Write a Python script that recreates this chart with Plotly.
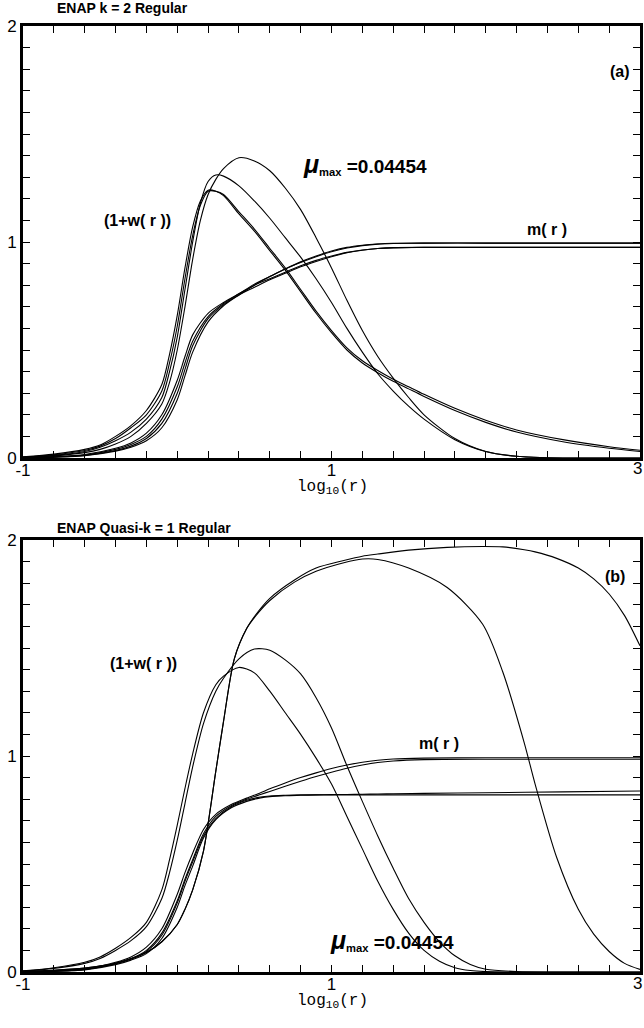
import plotly.graph_objects as go

# ---------------- Panel (a): ENAP k = 2 Regular ----------------
XA_W = [-1, -0.8, -0.6, -0.5, -0.4, -0.3, -0.2, -0.1, -0.05, 0, 0.05, 0.1, 0.15, 0.2, 0.25, 0.3,
        0.4, 0.5, 0.6, 0.7, 0.8, 0.9, 1.0, 1.1, 1.2, 1.3, 1.4, 1.5, 1.6, 1.8, 2.0, 2.2, 2.5, 2.8, 3.0]
A_W1 = [0.005, 0.018, 0.04, 0.06, 0.1, 0.15, 0.22, 0.34, 0.48, 0.66, 0.88, 1.07, 1.19, 1.24, 1.235, 1.215,
        1.13, 1.05, 0.96, 0.87, 0.77, 0.67, 0.58, 0.5, 0.44, 0.395, 0.355, 0.32, 0.285, 0.22, 0.165, 0.12, 0.075, 0.045, 0.03]
A_W1b = [0.004, 0.015, 0.035, 0.055, 0.09, 0.14, 0.2, 0.31, 0.44, 0.61, 0.83, 1.03, 1.17, 1.235, 1.235, 1.22,
         1.14, 1.06, 0.97, 0.88, 0.78, 0.68, 0.59, 0.51, 0.45, 0.405, 0.365, 0.33, 0.295, 0.23, 0.175, 0.13, 0.085, 0.052, 0.036]
A_W2 = [0.003, 0.012, 0.03, 0.05, 0.08, 0.12, 0.18, 0.28, 0.4, 0.56, 0.78, 1.0, 1.18, 1.28, 1.31, 1.305,
        1.26, 1.19, 1.11, 1.02, 0.93, 0.83, 0.72, 0.6, 0.49, 0.39, 0.31, 0.24, 0.18, 0.085, 0.03, 0.008, 0.0, 0.0, 0.0]
A_W3 = [0.002, 0.01, 0.025, 0.04, 0.065, 0.1, 0.16, 0.25, 0.35, 0.5, 0.7, 0.92, 1.1, 1.22, 1.29, 1.34,
        1.39, 1.375, 1.33, 1.25, 1.15, 1.02, 0.88, 0.73, 0.59, 0.47, 0.37, 0.28, 0.2, 0.09, 0.03, 0.008, 0.0, 0.0, 0.0]

XA_M = [-1, -0.8, -0.6, -0.4, -0.3, -0.2, -0.1, 0, 0.05, 0.1, 0.2, 0.3, 0.4, 0.5, 0.6, 0.7, 0.8, 0.9,
        1.0, 1.1, 1.2, 1.3, 1.4, 1.6, 2.0, 2.5, 3.0]
A_M1 = [0, 0.006, 0.016, 0.045, 0.07, 0.115, 0.2, 0.36, 0.47, 0.57, 0.67, 0.72, 0.76, 0.8, 0.83, 0.86, 0.89, 0.915,
        0.935, 0.952, 0.963, 0.97, 0.973, 0.975, 0.975, 0.975, 0.975]
A_M2 = [0, 0.005, 0.014, 0.04, 0.063, 0.1, 0.18, 0.33, 0.44, 0.54, 0.655, 0.715, 0.76, 0.805, 0.84, 0.875, 0.905, 0.932,
        0.955, 0.972, 0.983, 0.99, 0.993, 0.995, 0.995, 0.995, 0.995]
A_M3 = [0, 0.004, 0.012, 0.035, 0.055, 0.09, 0.16, 0.3, 0.41, 0.52, 0.645, 0.71, 0.755, 0.79, 0.825, 0.855, 0.885, 0.91,
        0.932, 0.95, 0.962, 0.97, 0.974, 0.975, 0.975, 0.975, 0.975]
A_M4 = [0, 0.004, 0.011, 0.032, 0.05, 0.08, 0.14, 0.27, 0.38, 0.49, 0.63, 0.705, 0.755, 0.8, 0.84, 0.875, 0.908, 0.935,
        0.958, 0.975, 0.985, 0.991, 0.994, 0.995, 0.995, 0.995, 0.995]

# ---------------- Panel (b): ENAP Quasi-k = 1 Regular ----------------
XB_W = [-1, -0.8, -0.6, -0.5, -0.4, -0.3, -0.2, -0.1, -0.05, 0, 0.05, 0.1, 0.17, 0.25, 0.3, 0.4, 0.5, 0.6,
        0.7, 0.8, 0.9, 1.0, 1.1, 1.2, 1.3, 1.4, 1.5, 1.6, 1.7, 1.8, 1.9, 2.0, 2.2, 2.5, 3.0]
B_WA = [0.005, 0.02, 0.045, 0.07, 0.11, 0.16, 0.23, 0.38, 0.52, 0.68, 0.85, 1.01, 1.2, 1.33, 1.37, 1.41, 1.385, 1.3,
        1.2, 1.1, 0.99, 0.87, 0.72, 0.57, 0.42, 0.29, 0.18, 0.1, 0.05, 0.02, 0.007, 0.002, 0.0, 0.0, 0.0]
B_WB = [0.004, 0.017, 0.04, 0.063, 0.1, 0.145, 0.21, 0.34, 0.46, 0.61, 0.78, 0.95, 1.15, 1.3, 1.36, 1.45, 1.495, 1.49,
        1.445, 1.38, 1.27, 1.13, 0.955, 0.79, 0.63, 0.48, 0.34, 0.23, 0.14, 0.075, 0.035, 0.013, 0.002, 0.0, 0.0]

XB_C = [-1, -0.8, -0.6, -0.4, -0.2, -0.1, 0, 0.05, 0.1, 0.17, 0.25, 0.3, 0.37, 0.45, 0.51, 0.6, 0.76, 0.9,
        1.08, 1.2, 1.3, 1.5, 1.75, 1.98, 2.11, 2.25, 2.32, 2.46, 2.6, 2.7, 2.8, 2.9, 3.0]
B_WC = [0.003, 0.008, 0.018, 0.04, 0.09, 0.14, 0.22, 0.29, 0.38, 0.56, 0.93, 1.16, 1.45, 1.59, 1.65, 1.72, 1.805, 1.855,
        1.895, 1.912, 1.91, 1.87, 1.78, 1.61, 1.39, 1.06, 0.87, 0.53, 0.29, 0.175, 0.095, 0.04, 0.012]
B_WD = [0.003, 0.008, 0.018, 0.04, 0.09, 0.14, 0.22, 0.29, 0.38, 0.56, 0.93, 1.16, 1.45, 1.59, 1.655, 1.73, 1.815, 1.87,
        1.905, 1.925, 1.935, 1.953, 1.966, 1.97, 1.968, 1.955, 1.945, 1.915, 1.87, 1.82, 1.75, 1.65, 1.51]

XB_M = [-1, -0.8, -0.6, -0.4, -0.3, -0.2, -0.1, 0, 0.05, 0.1, 0.17, 0.25, 0.35, 0.45, 0.54, 0.6, 0.7, 0.8,
        0.9, 1.0, 1.1, 1.2, 1.3, 1.4, 1.6, 2.0, 2.5, 3.0]
B_M1 = [0, 0.005, 0.014, 0.045, 0.07, 0.115, 0.2, 0.36, 0.46, 0.55, 0.66, 0.73, 0.775, 0.805, 0.83, 0.848, 0.875, 0.9,
        0.922, 0.942, 0.958, 0.971, 0.98, 0.986, 0.99, 0.992, 0.992, 0.992]
B_M2 = [0, 0.004, 0.012, 0.04, 0.062, 0.1, 0.18, 0.33, 0.43, 0.52, 0.64, 0.72, 0.77, 0.8, 0.822, 0.836, 0.86, 0.883,
        0.905, 0.925, 0.943, 0.958, 0.97, 0.977, 0.983, 0.985, 0.985, 0.985]
B_M3 = [0, 0.004, 0.012, 0.038, 0.06, 0.095, 0.17, 0.32, 0.42, 0.51, 0.63, 0.71, 0.765, 0.795, 0.81, 0.815, 0.818, 0.82,
        0.82, 0.82, 0.82, 0.82, 0.82, 0.82, 0.82, 0.82, 0.82, 0.82]
B_M4 = [0, 0.003, 0.01, 0.034, 0.055, 0.085, 0.155, 0.3, 0.4, 0.49, 0.62, 0.705, 0.76, 0.79, 0.806, 0.812, 0.816, 0.818,
        0.82, 0.821, 0.822, 0.823, 0.824, 0.825, 0.827, 0.83, 0.834, 0.838]

# Axis ticks (major labelled, minor unlabelled); the "3" at the right edge is placed as text
X_MAJOR = [-1, 1]
X_MAJOR_TEXT = ["-1", "1"]
X_EDGE_LABEL = "3"
Y_MAJOR = [0, 1, 2]
Y_MAJOR_TEXT = ["0", "1", "2"]

LETTER_FONT = "Liberation Sans"
MONO_FONT = "Liberation Mono"

fig = go.Figure()


def add_curves(xs, ys_list, xa, ya):
    for ys in ys_list:
        fig.add_trace(go.Scatter(x=xs, y=ys, mode="lines", xaxis=xa, yaxis=ya,
                                 line=dict(color="black", width=1.1, shape="spline", smoothing=0.8),
                                 showlegend=False, hoverinfo="skip"))


add_curves(XA_W, [A_W1, A_W1b, A_W2, A_W3], "x", "y")
add_curves(XA_M, [A_M1, A_M2, A_M3, A_M4], "x", "y")
add_curves(XB_W, [B_WA, B_WB], "x2", "y2")
add_curves(XB_C, [B_WC, B_WD], "x2", "y2")
add_curves(XB_M, [B_M1, B_M2, B_M3, B_M4], "x2", "y2")

W, H = 644, 1028


def px(xp):
    return xp / W


def py(yp):
    return 1 - yp / H


xdom = [px(23), px(640)]
ydom_a = [py(458), py(26)]
ydom_b = [py(972), py(540)]

tickfont = dict(family=LETTER_FONT, size=17, color="black")


def common(tickvals, ticktext, rng, dtick, tick0):
    return dict(range=rng, tickmode="array", tickvals=tickvals, ticktext=ticktext,
                ticks="inside", ticklen=7, tickwidth=1.2, tickcolor="black",
                minor=dict(tick0=tick0, dtick=dtick, ticks="inside", ticklen=7, tickwidth=1.2,
                           tickcolor="black", showgrid=False),
                showline=True, linewidth=2.6, linecolor="black", mirror="ticks",
                showgrid=False, zeroline=False, tickfont=tickfont, automargin=False)


def xaxis_cfg(anchor):
    d = common(X_MAJOR, X_MAJOR_TEXT, [-1, 3], 0.2, -1)
    d.update(domain=xdom, anchor=anchor, ticklabelstandoff=-5)
    return d


def yaxis_cfg(dom, anchor):
    d = common(Y_MAJOR, Y_MAJOR_TEXT, [0, 2], 0.1, 0)
    d.update(domain=dom, anchor=anchor)
    return d


fig.update_layout(
    width=W, height=H, margin=dict(l=0, r=0, t=0, b=0),
    paper_bgcolor="white", plot_bgcolor="white",
    xaxis=xaxis_cfg("y"), yaxis=yaxis_cfg(ydom_a, "x"),
    xaxis2=xaxis_cfg("y2"), yaxis2=yaxis_cfg(ydom_b, "x2"),
)

lab = dict(family=LETTER_FONT, size=16, color="black")
mu_text = ('<b><span style="font-size:25px"><i>μ</i></span><sub>max</sub>'
           '<span style="font-size:19px"> =0.04454</span></b>')
title_font = dict(family=LETTER_FONT, size=14, color="black")
mono = dict(family=MONO_FONT, size=16, color="black")

annotations = [
    # titles
    dict(text="<b>ENAP k = 2 Regular</b>", x=px(55), y=py(8), xref="paper", yref="paper",
         xanchor="left", yanchor="middle", showarrow=False, font=title_font),
    dict(text="<b>ENAP Quasi-k = 1 Regular</b>", x=px(55), y=py(528), xref="paper", yref="paper",
         xanchor="left", yanchor="middle", showarrow=False, font=title_font),
    # axis titles
    dict(text="log<sub>10</sub>(r)", x=px(333), y=py(487), xref="paper", yref="paper",
         xanchor="center", yanchor="middle", showarrow=False, font=mono),
    dict(text="log<sub>10</sub>(r)", x=px(333), y=py(1001), xref="paper", yref="paper",
         xanchor="center", yanchor="middle", showarrow=False, font=mono),
    # "3" tick labels at the right edge
    dict(text=X_EDGE_LABEL, x=px(644), y=py(469), xref="paper", yref="paper",
         xanchor="right", yanchor="middle", showarrow=False, font=tickfont),
    dict(text=X_EDGE_LABEL, x=px(644), y=py(983), xref="paper", yref="paper",
         xanchor="right", yanchor="middle", showarrow=False, font=tickfont),
    # panel (a) labels
    dict(text="<b>(a)</b>", x=2.87, y=1.79, xref="x", yref="y", showarrow=False, font=lab),
    dict(text="<b>(1+w( r ))</b>", x=-0.26, y=1.10, xref="x", yref="y", showarrow=False, font=lab),
    dict(text="<b>m( r )</b>", x=2.4, y=1.06, xref="x", yref="y", showarrow=False, font=lab),
    dict(text=mu_text, x=1.22, y=1.36, xref="x", yref="y", showarrow=False, font=lab),
    # panel (b) labels
    dict(text="<b>(b)</b>", x=2.84, y=1.83, xref="x2", yref="y2", showarrow=False, font=lab),
    dict(text="<b>(1+w( r ))</b>", x=-0.22, y=1.43, xref="x2", yref="y2", showarrow=False, font=lab),
    dict(text="<b>m( r )</b>", x=1.7, y=1.06, xref="x2", yref="y2", showarrow=False, font=lab),
    dict(text=mu_text, x=1.39, y=0.15, xref="x2", yref="y2", showarrow=False, font=lab),
]
fig.update_layout(annotations=annotations)

fig.write_html("out.html", config={"displayModeBar": False},
               post_script="document.body.style.margin='0px';")
